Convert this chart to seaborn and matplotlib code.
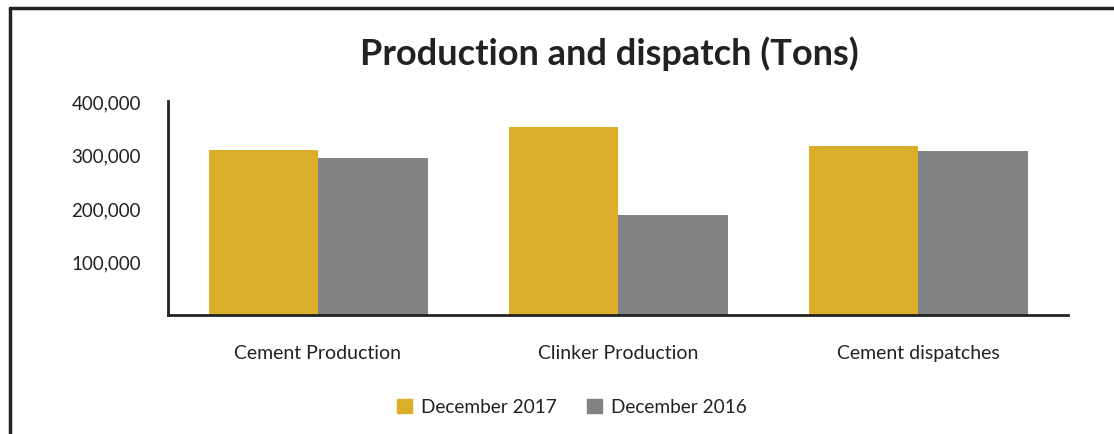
import numpy as np
import pandas as pd
import matplotlib.pyplot as plt
import seaborn as sns
from matplotlib.lines import Line2D
from matplotlib.ticker import FuncFormatter

# === Data ===
categories = ["Cement Production", "Clinker Production", "Cement dispatches"]
dec_2017 = [309000, 352000, 315000]
dec_2016 = [294000, 187000, 306000]
series = ["December 2017", "December 2016"]
yticks = [100000, 200000, 300000, 400000]

df = pd.DataFrame({
    "Category": categories * 2,
    "Period": [series[0]] * 3 + [series[1]] * 3,
    "Tons": dec_2017 + dec_2016,
})

sns.set_theme(style="white")
plt.rcParams["font.family"] = ["Lato", "DejaVu Sans"]
text_color = "#222222"
colors = ["#DAAE28", "#818284"]

fig = plt.figure(figsize=(11.14, 4.35), dpi=100)
ax = fig.add_axes([168 / 1114, 1 - 316 / 435, 900 / 1114, 214 / 435])

sns.barplot(data=df, x="Category", y="Tons", hue="Period",
            palette=colors, width=0.73, saturation=1, linewidth=0,
            ax=ax, legend=False)

ax.set_xlim(-0.5, 2.5)
ax.set_ylim(0, 400000)
ax.set_yticks(yticks)
ax.yaxis.set_major_formatter(FuncFormatter(lambda v, p: f"{int(v):,}"))
ax.tick_params(axis="both", length=0, colors=text_color)
ax.tick_params(axis="x", pad=21, labelsize=14)
ax.tick_params(axis="y", pad=19.5, labelsize=13.5)
ax.set_xlabel("")
ax.set_ylabel("")
for side in ["top", "right"]:
    ax.spines[side].set_visible(False)
for side in ["left", "bottom"]:
    ax.spines[side].set_color("#222222")
    ax.spines[side].set_linewidth(2)

fig.text(609 / 1114, 1 - 54 / 435, "Production and dispatch (Tons)", ha="center", va="center",
         fontsize=26, fontweight="bold", color=text_color)

handles = [plt.Rectangle((0, 0), 1, 1, color=c) for c in colors]
fig.legend(handles, series, loc="center", bbox_to_anchor=(572 / 1114, 1 - 408 / 435),
           ncol=2, frameon=False, fontsize=13.7, handlelength=0.8, handleheight=0.8,
           columnspacing=1.55, handletextpad=0.5, labelcolor=text_color)

# outer frame (top and left edges)
fig.add_artist(Line2D([10 / 1114, 1], [1 - 9 / 435, 1 - 9 / 435], color="#222222", lw=2.5))
fig.add_artist(Line2D([10 / 1114, 10 / 1114], [0, 1 - 9 / 435], color="#222222", lw=2.5))

fig.savefig("out.png", dpi=100)
